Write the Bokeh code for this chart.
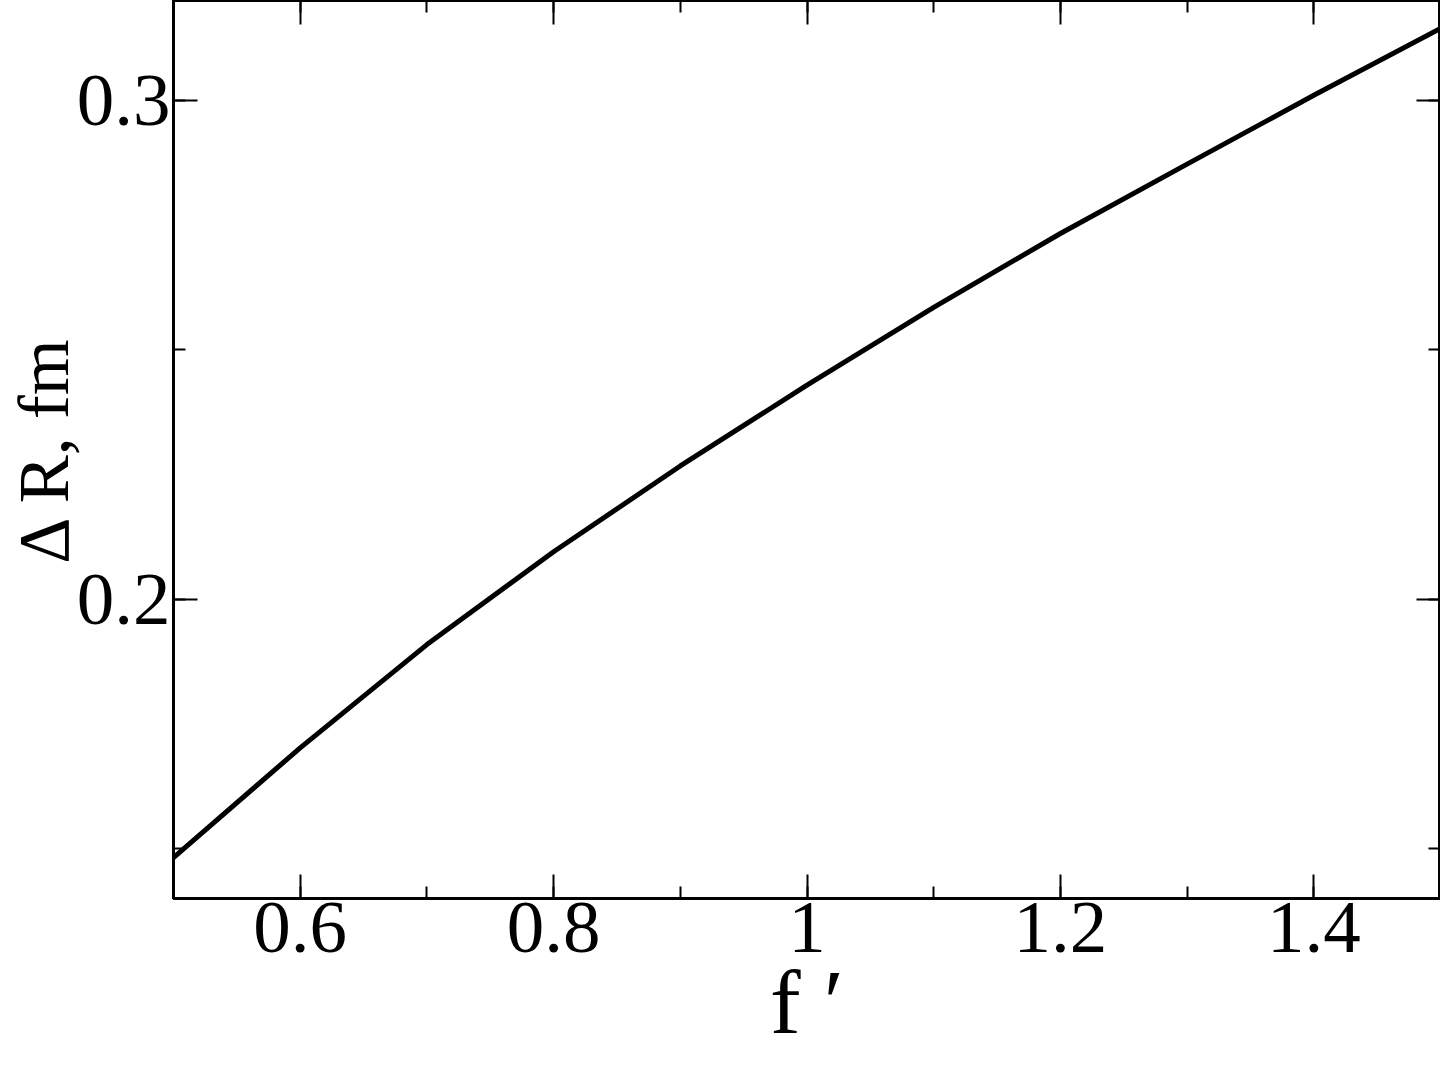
from bokeh.plotting import figure
from bokeh.models import LinearAxis, SingleIntervalTicker, Range1d, CustomJSTickFormatter
from bokeh.embed import file_html
from bokeh.resources import INLINE

f_prime = [0.5, 0.6, 0.7, 0.8, 0.9, 1.0, 1.1, 1.2, 1.3, 1.4, 1.5]
delta_r = [0.1482, 0.1702, 0.1909, 0.2095, 0.2267, 0.2429, 0.2585, 0.2733, 0.2872, 0.3010, 0.3144]

x_tick_labels = ["0.6", "0.8", "1", "1.2", "1.4"]
y_tick_labels = ["0.2", "0.3"]

FONT = "Liberation Serif"

p = figure(width=1440, height=1055, output_backend="svg", toolbar_location=None,
           x_range=Range1d(0.5, 1.5), y_range=Range1d(0.14, 0.32),
           x_axis_label="f \u2032", y_axis_label="\u0394 R, fm",
           min_border_left=0, min_border_right=0, min_border_top=0, min_border_bottom=0)
p.grid.visible = False
p.outline_line_color = "black"
p.outline_line_width = 3

xt = SingleIntervalTicker(interval=0.2, num_minor_ticks=2)
yt = SingleIntervalTicker(interval=0.1, num_minor_ticks=2)

p.xaxis.ticker = xt
p.yaxis.ticker = yt
p.xaxis.major_label_overrides = {0.6: x_tick_labels[0], 0.8: x_tick_labels[1], 1.0: x_tick_labels[2],
                                 1.2: x_tick_labels[3], 1.4: x_tick_labels[4]}
p.yaxis.major_label_overrides = {0.2: y_tick_labels[0], 0.3: y_tick_labels[1]}

for ax in [p.xaxis[0], p.yaxis[0]]:
    ax.axis_line_width = 3
    ax.major_tick_line_width = 2
    ax.minor_tick_line_width = 2
    ax.major_tick_in = 24
    ax.major_tick_out = 0
    ax.minor_tick_in = 12
    ax.minor_tick_out = 0
    ax.major_label_text_font = FONT
    ax.major_label_text_font_size = "75px"
    ax.major_label_text_color = "black"
    ax.axis_label_text_font = FONT
    ax.axis_label_text_font_style = "normal"
    ax.axis_label_text_color = "black"

p.xaxis.axis_label_text_font_size = "92px"
p.yaxis.axis_label_text_font_size = "72px"
p.xaxis.major_label_standoff = 4
p.yaxis.major_label_standoff = 3
p.xaxis.axis_label_standoff = -4
p.yaxis.axis_label_standoff = -10

blank = CustomJSTickFormatter(code="return ''")
for loc, tk in [("above", xt), ("right", yt)]:
    ax = LinearAxis(ticker=tk, formatter=blank)
    ax.axis_line_width = 3
    ax.major_tick_line_width = 2
    ax.minor_tick_line_width = 2
    ax.major_tick_in = 24
    ax.major_tick_out = 0
    ax.minor_tick_in = 12
    ax.minor_tick_out = 0
    ax.major_label_standoff = 0
    ax.major_label_text_font_size = "0px"
    p.add_layout(ax, loc)

p.line(f_prime, delta_r, line_width=5, line_color="black")

open("out.html", "w").write(file_html(p, INLINE))
